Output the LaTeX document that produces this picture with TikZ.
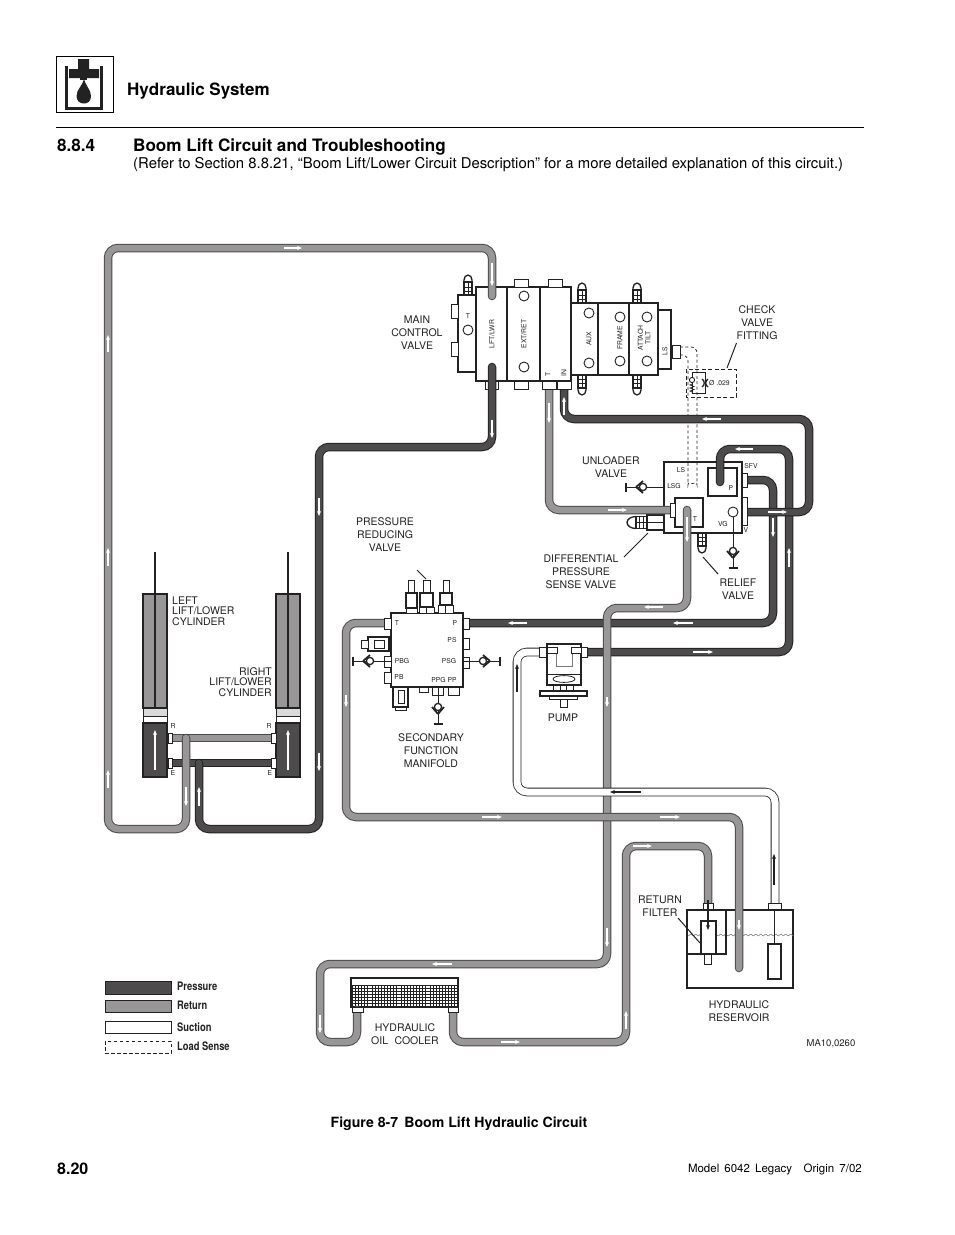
\documentclass[tikz,border=0pt]{standalone}
\usepackage{fontspec}
\setmainfont{TeX Gyre Heros}
\usetikzlibrary{arrows.meta}
\definecolor{pfill}{HTML}{4D4B4C}
\definecolor{rfill}{HTML}{989697}
\definecolor{ink}{HTML}{222222}
\definecolor{redge}{HTML}{4A4A4A}
\tikzset{
 pipebase/.style={line width=1pt,double distance=6.5pt,rounded corners=10pt},
 pipeP/.style={pipebase,draw=ink,double=pfill},
 pipeR/.style={pipebase,draw=redge,double=rfill},
 pipeS/.style={pipebase,line width=.8pt,double distance=7pt,draw=ink,double=white},
 flow/.style={draw=white,line width=1.1pt,-{Stealth[length=5pt,width=4pt]}},
 flowk/.style={draw=ink,line width=1.1pt,-{Stealth[length=5pt,width=4pt]}},
 part/.style={draw=ink,line width=1.3pt,fill=white},
 thin part/.style={draw=ink,line width=.9pt,fill=white},
 lab/.style={inner sep=0pt,align=center,text=ink,yshift=-1pt,font=\fontsize{10.5}{13}\selectfont},
 labt/.style={inner sep=0pt,text=ink,font=\fontsize{10.5}{10.6}\selectfont},
 tiny/.style={inner sep=0pt,text=ink,font=\fontsize{6.8}{7.5}\selectfont},
 leader/.style={draw=ink,line width=1pt},
 legt/.style={inner sep=0pt,anchor=west,xscale=.8,font=\fontsize{11.7}{12}\selectfont\bfseries,text=ink},
}
\newcommand\chk[3]{\begin{scope}[shift={(#1,#2)},rotate=#3]
 \draw[ink,line width=.9pt] (-17,0) -- (21,0);
 \draw[ink,line width=1.2pt] (-17,-4.5) -- (-17,4.5);
 \draw[ink,line width=1.7pt,fill=white] (-7,0) -- (0,-6) (-7,0) -- (0,6);
 \draw[ink,line width=1.3pt,fill=white] (0,0) circle[radius=3.6];
\end{scope}}
\newcommand\plug[3]{\begin{scope}[shift={(#1,#2)},rotate=#3]
 \draw[part] (-4,13) -- (-4,15) arc[start angle=180,end angle=0,x radius=4,y radius=5] -- (4,13);
 \draw[part] (-4,0) rectangle (4,13);
 \draw[ink,line width=.8pt] (-4,4) -- (4,4) (-4,8) -- (4,8) (0,0) -- (0,13);
\end{scope}}
\begin{document}
\begin{tikzpicture}[x=1pt,y=-1pt]
\useasboundingbox (0,0) rectangle (954,1235);
\fill[white] (0,0) rectangle (954,1235);
%% page furniture
\draw[black,line width=1pt] (56,56) rectangle (113,112);
\fill[ink] (78,59) rectangle (89,70) (69,69) rectangle (99,78);
\fill[ink] (80,78) rectangle (87,80);
\fill[ink] (84,78) .. controls (85,86) and (91,89) .. (91,96) .. controls (91,101) and (88,103.5) .. (84,103.5) .. controls (80,103.5) and (76.5,101) .. (76.5,96) .. controls (76.5,89) and (83,86) .. (84,78) -- cycle;
\draw[ink,line width=2.8pt] (66.5,66) -- (66.5,108.5) -- (101.5,108.5) -- (101.5,66);
\node[inner sep=0pt,anchor=base west,font=\fontsize{17}{20}\selectfont\bfseries] (hdr) at (127,95) {Hydraulic System};
\coordinate (ruleL) at (56,127); \coordinate (ruleR) at (864,127);
\draw[black,line width=.9pt] (ruleL) -- (ruleR);
\node[inner sep=0pt,anchor=base west,font=\fontsize{17.1}{20}\selectfont\bfseries] (secno) at (57,151) {8.8.4};
\node[inner sep=0pt,anchor=base west,font=\fontsize{17.1}{20}\selectfont\bfseries] (sect) at (133,151) {Boom Lift Circuit and Troubleshooting};
\node[inner sep=0pt,anchor=base west,font=\fontsize{14.87}{17}\selectfont] (subt) at (133,168) {(Refer to Section 8.8.21, “Boom Lift/Lower Circuit Description” for a more detailed explanation of this circuit.)};
\node[inner sep=0pt,font=\fontsize{14.1}{16}\selectfont\bfseries] (fig) at (459,1124) {Figure 8-7\, Boom Lift Hydraulic Circuit};
\node[inner sep=0pt,anchor=base west,font=\fontsize{16}{18}\selectfont\bfseries] (pgno) at (57,1174) {8.20};
\node[inner sep=0pt,anchor=base east,font=\fontsize{11.5}{13}\selectfont] (model) at (862,1172) {Model\, 6042\, Legacy\quad Origin\, 7/02};
\node[inner sep=0pt,font=\fontsize{9.5}{11}\selectfont,text=ink] (ma) at (831,1044) {MA10,0260};

%% port coordinates
\coordinate (mcvA) at (492,296); \coordinate (mcvB) at (492,367);
\coordinate (mcvT) at (549,387); \coordinate (mcvIn) at (564,387);
\coordinate (ulT) at (672,510); \coordinate (ulV) at (745,512);
\coordinate (ulP) at (720,482); \coordinate (ulS) at (745,480);
\coordinate (ulO) at (687,510);
\coordinate (mfP) at (467,623); \coordinate (mfT) at (386,623);
\coordinate (pIn) at (541,652); \coordinate (pOut) at (585,652);
\coordinate (fIn) at (708,905); \coordinate (rRet) at (739,968); \coordinate (rSuc) at (775,905);
\coordinate (cIn) at (357,1010); \coordinate (cOut) at (453,1010);
\coordinate (lR) at (170,738); \coordinate (rR) at (273,738);
\coordinate (lE) at (170,763); \coordinate (rE) at (273,763);
\coordinate (teeR) at (186,738); \coordinate (teeE) at (199,763);

%% main control valve
\plug{468}{295}{180}
\draw[part] (458,295) rectangle (476,372);
\draw[thin part] (451,304) rectangle (458,318) (451,342) rectangle (458,356);
\draw[thin part] (468,330) circle[radius=5];
\draw[part] (476,287) rectangle (571,381);
\draw[ink,line width=1.1pt] (507,287) -- (507,381) (540,287) -- (540,381);
\draw[thin part] (514,279) rectangle (528,287) (548,279) rectangle (562,287);
\draw[thin part] (485,381) rectangle (498,389) (514,381) rectangle (528,389);
\draw[thin part] (524,296) circle[radius=5] (524,367) circle[radius=5];
\plug{582}{303}{180}\plug{637}{303}{180}\plug{582}{375}{0}\plug{637}{375}{0}
\draw[part] (571,303) rectangle (658,375);
\draw[ink,line width=1.1pt] (598,303) -- (598,375) (629,303) -- (629,375);
\draw[thin part] (589,313) circle[radius=5] (589,363) circle[radius=5] (620,317) circle[radius=5] (620,361) circle[radius=5] (647,317) circle[radius=5] (647,361) circle[radius=5];
\draw[part] (658,310) rectangle (671,369);
\draw[thin part] (672,345) rectangle (680,358);
\node[tiny] (tT) at (468,316) {T};
\node[tiny,rotate=90] (tLW) at (492,334) {LFT/LWR};
\node[tiny,rotate=90] (tER) at (524,334) {EXT/RET};
\node[tiny,rotate=90] (tTT) at (548,374) {T};
\node[tiny,rotate=90] (tIN) at (564,373) {IN};
\node[tiny,rotate=90] (tAUX) at (589,339) {AUX};
\node[tiny,rotate=90] (tFR) at (620,338) {FRAME};
\node[tiny,rotate=90,align=center] (tAT) at (644,338) {ATTACH\\TILT};
\node[tiny,rotate=90] (tLS) at (665,351) {LS};

%% unloader block
\draw[part] (664,462) rectangle (742,533);
\draw[part] (708,468) rectangle (737,496);
\draw[part] (675,498) rectangle (703,527);
\draw[thin part] (670,503) rectangle (675,517);
\draw[thin part] (742,473) rectangle (747,487) (742,497) rectangle (747,525);
\draw[thin part] (733,512) circle[radius=5];
\chk{733}{551}{90}
\draw[ink,line width=.9pt] (733,517) -- (733,530);
\chk{643}{487}{0}
\plug{702}{533}{0}
\draw[part] (647,515) rectangle (664,530); \draw[ink,line width=.8pt] (647,522.5) -- (664,522.5);
\begin{scope}[shift={(647,522.5)},rotate=-90]
 \draw[part] (-6,11) arc[start angle=180,end angle=0,x radius=6,y radius=9];
 \draw[part] (-6,0) rectangle (6,11);
 \draw[ink,line width=.8pt] (-6,4) -- (6,4) (-6,7.5) -- (6,7.5) (0,0) -- (0,11);
\end{scope}
\node[tiny] (tLS2) at (681,470) {LS};
\node[tiny] (tLSG) at (674,486) {LSG};
\node[tiny] (tSFV) at (751,466) {SFV};
\node[tiny] (tP) at (731,488) {P};
\node[tiny] (tT2) at (695,519) {T};
\node[tiny] (tVG) at (723,524) {VG};
\node[tiny] (tV) at (746,530) {V};

%% check valve fitting + load sense
\coordinate (lsA) at (680,347); \coordinate (lsB) at (680,355);
\draw[ink,line width=.7pt,dash pattern=on 3pt off 2.4pt,rounded corners=6pt] (lsA) -- (697,347) -- (697,479) arc[start angle=0,end angle=180,radius=4.5] -- (688,355) -- (lsB);
\draw[ink,line width=.8pt,dash pattern=on 4pt off 2.5pt] (686,369) rectangle (736,397);
\draw[ink,line width=.9pt] (692,372) -- (705,372) -- (705,393) -- (692,393) -- (692,372);
\draw[ink,line width=.9pt,fill=white] (692,380) circle[radius=2.6];
\draw[ink,line width=.7pt] (692,384) -- (690,385) -- (694,386.5) -- (690,388) -- (694,389.5) -- (690,391) -- (692,392);
\draw[ink,line width=1.3pt] (702,379) .. controls (705,381) and (705,385) .. (702,387) (708,379) .. controls (705,381) and (705,385) .. (708,387);
\node[tiny,anchor=west] (torf) at (709,383.5) {Ø .029};
\coordinate (cvA) at (736.5,343); \coordinate (cvB) at (727,368);
\draw[leader] (cvA) -- (cvB);

%% manifold
\draw[part] (391,613) rectangle (463,687);
\draw[thin part] (384,618) rectangle (391,629) (463,618) rectangle (469,629) (463,638) rectangle (469,649) (463,657) rectangle (469,668) (384,656) rectangle (391,667) (384,672) rectangle (391,683);
\draw[part] (368,637) rectangle (389,651);
\draw[thin part] (361,640) rectangle (368,648) (374,640) rectangle (384,648);
\chk{370}{661}{0}
\chk{483}{661}{180}
\draw[part] (393,687) rectangle (408,707);
\draw[thin part] (398,690) rectangle (404,703);
\draw[thin part] (395,707) rectangle (406,710);
\draw[thin part] (419,687) rectangle (428,692);
\draw[thin part] (432,687) rectangle (443,695) (448,687) rectangle (459,695);
\chk{438}{707}{90}
\draw[ink,line width=.9pt] (438,695) -- (438,702);
% reducing valves
\draw[thin part] (408,580) rectangle (414,593); \draw[part] (406,593) rectangle (417,608); \draw[thin part] (406,608) rectangle (417,613);
\draw[thin part] (423,580) rectangle (430,593); \draw[part] (420,593) rectangle (433,607); \draw[thin part] (419,607) rectangle (434,613); \draw[ink,line width=.8pt] (426.5,607) -- (426.5,613);
\draw[thin part] (443,580) rectangle (449,593); \draw[part] (440,593) rectangle (452,605); \draw[thin part] (438,605) rectangle (453,613); \draw[ink,line width=.8pt] (445.5,605) -- (445.5,613);
\node[tiny] (mT) at (397,623) {T};
\node[tiny] (mP) at (455,623) {P};
\node[tiny] (mPS) at (452,640) {PS};
\node[tiny] (mPBG) at (402,661) {PBG};
\node[tiny] (mPSG) at (449,661) {PSG};
\node[tiny] (mPB) at (399,677) {PB};
\node[tiny] (mPPG) at (444,680) {PPG PP};

%% cylinders
\foreach \n/\x/\y in {a/143/155,b/276/288}{
 \draw[ink,line width=1.3pt,fill=rfill] (\x,594) rectangle (\x+24,708);
 \draw[ink,line width=1pt,fill=rfill!35] (\x,708) rectangle (\x+24,716);
 \draw[ink,line width=1pt,fill=white] (\x,716) rectangle (\x+24,723);
 \draw[ink,line width=1.3pt,fill=pfill] (\x,723) rectangle (\x+24,777);
 \draw[ink,line width=2pt] (\y,552) -- (\y,708);
 \draw[flow] (\y,770) -- (\y,730);
}
\node[tiny] (lRl) at (173,726) {R};
\node[tiny] (rRl) at (269,726) {R};
\node[tiny] (lEl) at (173,773) {E};
\node[tiny] (rEl) at (270,773) {E};

%% reservoir
\draw[part] (687,910) rectangle (793,988);
\draw[ink!60,line width=.5pt] plot[domain=687:793,samples=300] (\x,{935+0.8*sin((\x-687)*72)});
\draw[part,fill=none] (687,910) rectangle (726,954);
\draw[part] (701,921) rectangle (716,954);
\draw[thin part] (704,954) rectangle (711,964);
\draw[part] (768,944) rectangle (781,979);
\draw[ink,line width=.9pt] (774.5,909) -- (774.5,944);

%% cooler
\draw[part] (351,978) rectangle (458,1007);
\fill[ink] (351,985) rectangle (458,1007);
\foreach \i in {0,...,35}{\foreach \j in {0,...,6}{\fill[white] ({353+\i*2.9},{986+\j*2.95}) rectangle ++(2,2);}}
\draw[ink,line width=1.3pt] (351,978) rectangle (458,1007);

%% pipes
\draw[pipeP] (lE) -- (rE);
\draw[pipeP,line cap=round] (mcvB) -- (492,447) -- (319,447) -- (319,829) -- (199,829) -- (teeE);
\fill[pfill] (196,761) rectangle (202,769);
\draw[pipeR] (lR) -- (rR);
\draw[pipeR,line cap=round] (mcvA) -- (492,248) -- (108,248) -- (108,829) -- (186,829) -- (teeR);
\fill[rfill] (183,736) rectangle (189,745);
\draw[pipeR] (mcvT) -- (549,510) -- (ulT);
\draw[pipeP,line cap=round] (ulP) -- (720,449) -- (789,449) -- (789,652) -- (pOut);
\draw[pipeP] (ulS) -- (773,480) -- (773,623) -- (mfP);
\draw[pipeP] (mcvIn) -- (564,419) -- (809,419) -- (809,512) -- (ulV);
\draw[pipeR,line cap=round] (ulO) -- (687,608) -- (607,608) -- (607,964) -- (320,964) -- (320,1042) -- (357,1042) -- (cIn);
\draw[pipeR] (cOut) -- (453,1042) -- (626,1042) -- (626,846) -- (708,846) -- (fIn);
\draw[pipeS] (rSuc) -- (775,792) -- (517,792) -- (517,652) -- (pIn);
\draw[pipeR,line cap=round] (mfT) -- (346,623) -- (346,817) -- (739,817) -- (rRet);

%% port caps over pipes
\draw[thin part] (542,381) rectangle (556,389) (557,381) rectangle (571,389);
\draw[thin part] (168,733) rectangle (172,743) (168,758) rectangle (172,768) (271,733) rectangle (276,743) (271,758) rectangle (276,768);
\draw[thin part] (670,503) rectangle (675,517);
\draw[thin part] (742,473) rectangle (747,487) (742,497) rectangle (747,525);
\draw[thin part] (384,618) rectangle (391,629) (463,618) rectangle (469,629);
\draw[thin part] (352,1007) rectangle (363,1012) (448,1007) rectangle (458,1012);
\draw[thin part] (703,903) rectangle (713,909) (768,903) rectangle (781,909);

%% pump
\draw[thin part] (539,647) rectangle (547,657) (580,647) rectangle (587,657);
\draw[part] (547,644) rectangle (581,685);
\draw[ink,line width=.7pt] (547,674) -- (581,674);
\draw[ink,line width=.8pt] (564,679) ellipse[x radius=11,y radius=3.4];
\draw[ink!60,line width=.7pt] (556,650) -- (556,666) -- (572,666) -- (572,650);
\draw[thin part] (547,647) rectangle (557,653) (571,647) rectangle (581,653);
\draw[thin part] (553,685) rectangle (573,691);
\draw[ink,line width=.8pt] (560,685) -- (560,691) (566,685) -- (566,691);
\draw[part] (540,691) rectangle (587,696);
\draw[thin part] (549,696) rectangle (577,699);
\draw[thin part] (560,699) rectangle (567,707);

%% flow arrows
\foreach \a/\b/\c/\d in {284/248/302/248,108/352/108/335,108/566/108/548,108/788/108/770,186/787/186/806,199/806/199/787,319/753/319/771,319/498/319/516,492/263/492/286,492/420/492/438,549/403/549/423,608/510/627/510,564/415/564/397,721/419/702/419,753/449/735/449,768/512/787/512,773/518/773/537,789/567/789/548,687/517/687/542,527/623/508/623,693/623/673/623,693/652/713/652,346/695/346/707,663/607/644/607,607/697/607/707,607/928/607/947,482/817/502/817,660/817/680/817,739/920/739/930,452/964/432/964,320/1015/320/1033,501/1042/520/1042,626/1029/626/1011,633/846/652/846}
 {\draw[flow] (\a,\b) -- (\c,\d);}
\draw[flowk] (641,792) -- (610,792);
\draw[flowk] (517,692) -- (517,664);
\draw[flowk] (774,885) -- (774,854);
\draw[flowk] (708,900) -- (708,930);

%% leaders & labels
\coordinate (a1) at (417,570); \coordinate (a2) at (426,579); \draw[leader] (a1) -- (a2);
\coordinate (a3) at (648,533); \coordinate (a4) at (624,557); \draw[leader] (a3) -- (a4);
\coordinate (a5) at (703,557); \coordinate (a6) at (718,574); \draw[leader] (a5) -- (a6);
\coordinate (a7) at (678,918); \coordinate (a8) at (700,943); \draw[leader] (a7) -- (a8);
\node[lab] (lMain) at (417,332) {MAIN\\CONTROL\\VALVE};
\node[lab] (lCheck) at (757,322) {CHECK\\VALVE\\FITTING};
\node[lab] (lUnl) at (611,466.5) {UNLOADER\\VALVE};
\node[lab] (lPrv) at (385,533.5) {PRESSURE\\REDUCING\\VALVE};
\node[lab] (lDif) at (581,571) {DIFFERENTIAL\\PRESSURE\\SENSE VALVE};
\node[lab] (lRel) at (738,588.5) {RELIEF\\VALVE};
\node[lab] (lSec) at (431,749.5) {SECONDARY\\FUNCTION\\MANIFOLD};
\node[lab] (lPump) at (563,717) {PUMP};
\node[labt,align=left,anchor=west] (lLeft) at (172,611) {LEFT\\LIFT/LOWER\\CYLINDER};
\node[labt,align=right,anchor=east] (lRight) at (272,682) {RIGHT\\LIFT/LOWER\\CYLINDER};
\node[lab] (lFilt) at (660,905.5) {RETURN\\FILTER};
\node[lab] (lRes) at (739,1010.5) {HYDRAULIC\\RESERVOIR};
\node[lab] (lCool) at (405,1033.5) {HYDRAULIC\\OIL\,\, COOLER};

%% legend
\draw[ink,line width=1pt,fill=pfill] (105,981) rectangle (171,994);
\draw[ink,line width=1pt,fill=rfill] (105,1000) rectangle (171,1012);
\draw[ink,line width=1pt,fill=white] (105,1021) rectangle (171,1033);
\draw[ink,line width=.8pt,dash pattern=on 3.5pt off 2.5pt] (105,1041) rectangle (171,1053);
\node[legt] (gP) at (177,986) {Pressure};
\node[legt] (gR) at (177,1005) {Return};
\node[legt] (gS) at (177,1027) {Suction};
\node[legt] (gL) at (177,1046) {Load Sense};
\end{tikzpicture}
\end{document}
